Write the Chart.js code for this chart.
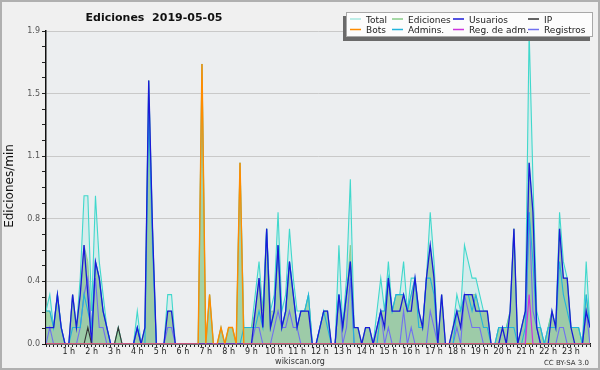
<!DOCTYPE html>
<html>
<head>
<meta charset="utf-8">
<script src="https://cdn.jsdelivr.net/npm/chart.js@4"></script>
<style>
  html, body { margin: 0; padding: 0; background: #f0f0f0; }
  #chart { display: block; }
</style>
</head>
<body>
<canvas id="chart" width="600" height="370"></canvas>
<script>
// 10-minute bins, 144 per day, values in edits/min
const chartTitle = 'Ediciones  2019-05-05';
const yTitle = 'Ediciones/min';
const seriesNames = ['Total', 'Ediciones', 'Usuarios', 'IP', 'Bots', 'Admins.', 'Reg. de adm.', 'Registros'];
const hourLabels = ['1 h', '2 h', '3 h', '4 h', '5 h', '6 h', '7 h', '8 h', '9 h', '10 h', '11 h', '12 h',
    '13 h', '14 h', '15 h', '16 h', '17 h', '18 h', '19 h', '20 h', '21 h', '22 h', '23 h'];
const yTickLabels = ['0.0', '0.4', '0.8', '1.1', '1.5', '1.9'];

const total = [
    .2,.3,.1,.3,.1,0, 0,.3,.1,.4,.9,.9, .2,.9,.5,.3,.1,0, 0,.1,0,0,0,0,
    .2,0,.1,1.6,.7,0, 0,0,.3,.3,0,0, 0,0,0,0,0,1.7, 0,.3,0,0,.1,0,
    .1,.1,0,1.1,.1,.1, .1,.3,.5,.2,.7,.2, .3,.8,.2,.3,.7,.4, .2,.2,.2,.3,0,0,
    .1,.2,.2,0,0,.6, .1,.4,1.0,.1,.1,0, .1,.1,0,.2,.4,.2, .5,.2,.3,.3,.5,.2,
    .4,.4,.2,.1,.4,.8, .5,0,.3,0,0,.1, .3,.2,.6,.5,.4,.4, .3,.2,.2,0,0,.1,
    .1,.1,.2,.7,0,.1, .2,1.9,1.0,.2,.1,0, .1,.2,.1,.8,.5,.4, .1,.1,.1,0,.5,.1
];
const ediciones = [
    .2,.2,.1,.3,.1,0, 0,.3,.1,.3,.6,.5, .1,.5,.4,.2,.1,0, 0,.1,0,0,0,0,
    .1,0,.1,1.6,.7,0, 0,0,.2,.2,0,0, 0,0,0,0,0,1.7, 0,.3,0,0,.1,0,
    .1,.1,0,1.1,.1,.1, .1,.2,.4,.2,.7,.2, .2,.6,.1,.2,.5,.3, .1,.2,.2,.3,0,0,
    .1,.2,.2,0,0,.3, .1,.3,.6,.1,.1,0, .1,.1,0,.1,.2,.2, .4,.2,.3,.3,.3,.2,
    .3,.4,.2,.1,.4,.6, .4,0,.3,0,0,.1, .2,.2,.3,.3,.3,.3, .2,.2,.2,0,0,.1,
    .1,.1,.2,.7,0,.1, .2,1.1,.8,.1,.1,0, .1,.2,.1,.7,.4,.4, .1,.1,.1,0,.3,.1
];
const usuarios = [
    .1,.1,.1,.3,.1,0, 0,.3,.1,.3,.6,.3, 0,.5,.4,.2,.1,0, 0,0,0,0,0,0,
    .1,0,.1,1.6,.7,0, 0,0,.2,.2,0,0, 0,0,0,0,0,0, 0,0,0,0,0,0,
    0,0,0,0,0,0, 0,.2,.4,.1,.7,.1, .2,.6,.1,.2,.5,.3, .1,.2,.2,.2,0,0,
    .1,.2,.2,0,0,.3, .1,.3,.5,.1,.1,0, .1,.1,0,.1,.2,.1, .4,.2,.2,.2,.3,.2,
    .2,.4,.2,.1,.4,.6, .4,0,.3,0,0,.1, .2,.1,.3,.3,.3,.2, .2,.2,.2,0,0,0,
    .1,0,.2,.7,0,.1, .2,1.1,.8,.1,0,0, 0,.2,.1,.7,.4,.4, .1,0,0,0,.2,.1
];
const ip = [
    0,0,0,0,0,0, 0,0,0,0,0,.1, 0,0,0,0,0,0, 0,.1,0,0,0,0,
    0,0,0,0,0,0, 0,0,0,0,0,0, 0,0,0,0,0,0, 0,0,0,0,0,0,
    0,0,0,0,0,0, 0,0,0,0,0,0, 0,0,0,0,0,0, 0,0,0,0,0,0,
    0,0,0,0,0,0, 0,0,0,0,0,0, 0,0,0,0,0,0, 0,0,0,0,0,0,
    0,0,0,0,0,0, 0,0,0,0,0,0, 0,0,0,0,0,0, 0,0,0,0,0,0,
    0,0,0,0,0,0, 0,0,0,0,0,0, 0,0,0,0,0,0, 0,0,0,0,0,0
];
const bots = [
    0,0,0,0,0,0, 0,0,0,0,0,0, 0,0,0,0,0,0, 0,0,0,0,0,0,
    0,0,0,0,0,0, 0,0,0,0,0,0, 0,0,0,0,0,1.7, 0,.3,0,0,.1,0,
    .1,.1,0,1.1,0,0, 0,0,0,0,0,0, 0,0,0,0,0,0, 0,0,0,0,0,0,
    0,0,0,0,0,0, 0,0,0,0,0,0, 0,0,0,0,0,0, 0,0,0,0,0,0,
    0,0,0,0,0,0, 0,0,0,0,0,0, 0,0,0,0,0,0, 0,0,0,0,0,0,
    0,0,0,0,0,0, 0,0,0,0,0,0, 0,0,0,0,0,0, 0,0,0,0,0,0
];
const admins = [
    .2,.2,.1,.3,.1,0, 0,.1,.1,.1,.3,.2, .1,.5,.4,.2,.1,0, 0,0,0,0,0,0,
    .1,0,0,1.4,.6,0, 0,0,0,0,0,0, 0,0,0,0,0,0, 0,0,0,0,0,0,
    0,0,0,0,.1,.1, .1,.1,.2,.1,.7,.1, .2,.6,.1,.2,.5,.3, .1,.2,.2,.3,0,0,
    .1,.2,.1,0,0,.3, .1,.3,.5,0,0,0, 0,0,0,0,.2,.2, .4,.2,.3,.3,.3,.2,
    .3,.4,.1,.1,.4,.4, .3,0,0,0,0,0, .2,.2,.3,.3,.2,.3, .2,.1,.1,0,0,.1,
    .1,.1,.1,.1,0,0, .1,.8,.5,.1,.1,0, .1,.1,.1,.5,.3,.2, .1,.1,.1,0,.3,.1
];
const regAdm = [
    0,0,0,0,0,0, 0,0,0,0,0,0, 0,0,0,0,0,0, 0,0,0,0,0,0,
    0,0,0,0,0,0, 0,0,0,0,0,0, 0,0,0,0,0,0, 0,0,0,0,0,0,
    0,0,0,0,0,0, 0,0,0,0,0,0, 0,0,0,0,0,0, 0,0,0,0,0,0,
    0,0,0,0,0,0, 0,0,0,0,0,0, 0,0,0,0,0,0, 0,0,0,0,0,0,
    0,0,0,0,0,0, 0,0,0,0,0,0, 0,0,0,0,0,0, 0,0,0,0,0,0,
    0,0,0,0,0,0, 0,.3,0,0,0,0, 0,0,0,0,0,0, 0,0,0,0,0,0
];
const registros = [
    0,.1,0,0,0,0, 0,0,0,.1,.3,.4, .1,.4,.1,.1,0,0, 0,0,0,0,0,0,
    .1,0,0,0,0,0, 0,0,.1,.1,0,0, 0,0,0,0,0,0, 0,0,0,0,0,0,
    0,0,0,0,0,0, 0,.1,.1,0,0,0, .1,.2,.1,.1,.2,.1, .1,0,0,0,0,0,
    0,0,0,0,0,.3, 0,.1,.4,0,0,0, 0,0,0,.1,.2,0, .1,0,0,0,.2,0,
    .1,0,0,0,0,.2, .1,0,0,0,0,0, .1,0,.3,.2,.1,.1, .1,0,0,0,0,0,
    0,0,0,0,0,0, 0,.8,.2,.1,0,0, 0,0,0,.1,.1,0, 0,0,0,0,.2,0
];

const toPoints = arr => arr.map((v, i) => ({ x: i, y: v }));

function line(label, data, color, width, order, fill, bg) {
    return {
        label: label,
        data: toPoints(data),
        borderColor: color,
        backgroundColor: bg || color,
        borderWidth: width,
        fill: fill ? 'origin' : false,
        order: order,
        pointRadius: 0,
        tension: 0
    };
}

// background, frame, title, footer and the boxed legend
const decor = {
    id: 'decor',
    beforeDraw(chart) {
        const { ctx, chartArea: a } = chart;
        ctx.save();
        ctx.fillStyle = '#f0f0f0';
        ctx.fillRect(0, 0, chart.width, chart.height);
        ctx.fillStyle = '#eceef0';
        ctx.fillRect(a.left, a.top, a.right - a.left, a.bottom - a.top);
        ctx.strokeStyle = '#b0b0b0';
        ctx.lineWidth = 2;
        ctx.strokeRect(1, 1, chart.width - 2, chart.height - 2);
        ctx.restore();
    },
    afterDraw(chart) {
        const ctx = chart.ctx;
        ctx.save();
        ctx.fillStyle = '#111';
        ctx.textAlign = 'center';
        ctx.font = 'bold 11px "DejaVu Sans"';
        ctx.fillText(chartTitle, 154, 21);

        ctx.font = '8px "DejaVu Sans"';
        ctx.fillStyle = '#333';
        ctx.fillText('wikiscan.org', 300, 364);
        ctx.textAlign = 'right';
        ctx.font = '7px "DejaVu Sans"';
        ctx.fillText('CC BY-SA 3.0', 589, 365);

        ctx.save();
        ctx.translate(9.5, 186);
        ctx.rotate(-Math.PI / 2);
        ctx.textAlign = 'center';
        ctx.textBaseline = 'middle';
        ctx.font = '12px "DejaVu Sans"';
        ctx.fillStyle = '#111';
        ctx.fillText(yTitle, 0, 0);
        ctx.restore();

        // legend box with shadow
        ctx.fillStyle = '#6a6a6a';
        ctx.fillRect(343, 16, 247, 25);
        ctx.fillStyle = '#fcfcfc';
        ctx.fillRect(346, 12, 247, 25);
        ctx.strokeStyle = '#a8a8a8';
        ctx.lineWidth = 1;
        ctx.strokeRect(346.5, 12.5, 246, 24);

        const colX = [350, 392, 453, 528];
        const rowY = [19, 29.5];
        ctx.textAlign = 'left';
        ctx.textBaseline = 'alphabetic';
        ctx.font = '9px "DejaVu Sans"';
        chart.data.datasets.forEach((ds, i) => {
            const x = colX[i % 4], y = rowY[Math.floor(i / 4)];
            ctx.strokeStyle = ds.legendColor || ds.borderColor;
            ctx.lineWidth = 1.5;
            ctx.beginPath();
            ctx.moveTo(x, y);
            ctx.lineTo(x + 11, y);
            ctx.stroke();
            ctx.fillStyle = '#222';
            ctx.fillText(ds.label, x + 16, y + 3.5);
        });
        ctx.restore();
    }
};

const datasets = [
    line(seriesNames[0], total, '#40d8cc', 1.1, 10, true, 'rgba(64,224,208,0.13)'),
    line(seriesNames[1], ediciones, 'rgba(130,195,130,0.7)', 1, 9, true, 'rgba(150,205,150,0.8)'),
    line(seriesNames[2], usuarios, '#1a1ad8', 1.3, 5, true, 'rgba(50,50,190,0.05)'),
    line(seriesNames[3], ip, '#333333', 1.1, 4),
    line(seriesNames[4], bots, '#ff8c00', 1.4, 3),
    line(seriesNames[5], admins, '#22b4dc', 1.1, 6),
    line(seriesNames[6], regAdm, '#cc33dd', 1.2, 2),
    line(seriesNames[7], registros, '#7070f0', 1.1, 7)
];
datasets[0].legendColor = '#a8e8e0';
datasets[1].legendColor = '#88cc88';

new Chart(document.getElementById('chart'), {
    type: 'line',
    data: { datasets: datasets },
    plugins: [decor],
    options: {
        responsive: false,
        animation: false,
        devicePixelRatio: 1,
        layout: { padding: { top: 31, right: 10, left: 0, bottom: 0 } },
        plugins: {
            legend: { display: false },
            tooltip: { enabled: false },
            filler: { drawTime: 'beforeDatasetsDraw' }
        },
        scales: {
            x: {
                type: 'linear',
                min: 0,
                max: 143,
                afterBuildTicks: scale => {
                    scale.ticks = total.map((v, i) => ({ value: i }));
                },
                afterFit: scale => { scale.height = 26; },
                grid: { drawOnChartArea: false, tickLength: 3, tickColor: '#222' },
                border: { color: '#111', width: 1.5 },
                ticks: {
                    autoSkip: false,
                    maxRotation: 0,
                    padding: 0,
                    color: '#222',
                    font: { family: 'DejaVu Sans', size: 8 },
                    callback: value => (value % 6 === 0 && value > 0 && value < 143) ? hourLabels[value / 6 - 1] : ''
                }
            },
            y: {
                min: 0,
                max: 1.9,
                afterBuildTicks: scale => {
                    scale.ticks = Array.from({ length: 21 }, (_, k) => ({ value: k * 0.095 }));
                },
                afterFit: scale => { scale.width = 46; },
                grid: {
                    color: ctx => ctx.index % 4 === 0 ? '#c9c9c9' : 'rgba(0,0,0,0)',
                    tickColor: '#222',
                    tickLength: 4
                },
                border: { color: '#111', width: 1.5 },
                ticks: {
                    autoSkip: false,
                    padding: 2,
                    color: '#555',
                    font: { family: 'DejaVu Sans', size: 8 },
                    callback: (value, index) => index % 4 === 0 ? yTickLabels[index / 4] : ''
                }
            }
        }
    }
});
</script>
</body>
</html>
